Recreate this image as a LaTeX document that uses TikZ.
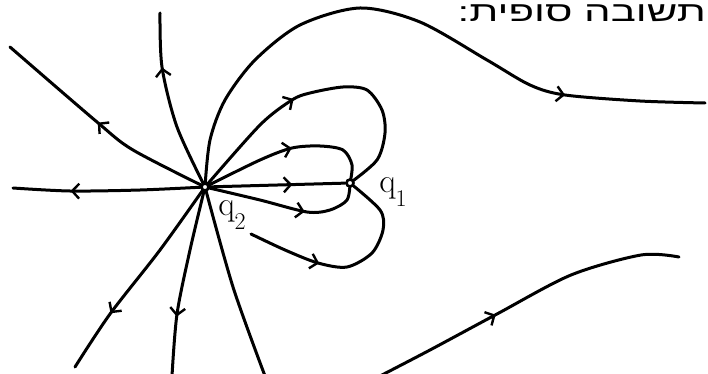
\documentclass[tikz,border=0pt]{standalone}
\usepackage{fontspec}
\usetikzlibrary{arrows.meta,decorations.markings,backgrounds}
\newfontfamily\hebfont[Script=Hebrew]{Liberation Sans}
\TeXXeTstate=1
\tikzset{
  flow/.style={line width=3pt, line cap=round, line join=round},
  arr/.style={postaction={decorate}, decoration={markings,
     mark=at position #1 with {\arrow[line width=2.4pt]{Straight Barb[length=7pt,width=15pt]}}}},
  dot/.style={circle, draw, line width=2.6pt, fill=white, inner sep=0pt, minimum size=7pt},
  lbl/.style={font=\fontsize{34}{38}\selectfont, inner sep=0pt}
}
\newcommand{\qlab}[1]{q\raisebox{-0.4em}{\fontsize{24}{26}\selectfont #1}}
\begin{document}
\begin{tikzpicture}[x=1pt,y=-1pt]
\useasboundingbox (0,0) rectangle (708,374);
\node[dot] (q2) at (205,187) {};
\node[dot] (q1) at (350,183) {};
\coordinate (s8) at (251,234);
\coordinate (s13) at (380,376);
\coordinate (e1) at (10,47);
\coordinate (e2) at (160,13);
\coordinate (e3) at (705,103);
\coordinate (e9) at (13,188);
\coordinate (e10) at (75,367);
\coordinate (e11) at (172,376);
\coordinate (e12) at (265,376);
\coordinate (e13) at (679,257);
\begin{scope}[on background layer]
\draw[flow,arr=0.52] plot[smooth] coordinates {(q2) (133,150) (97,122) (e1)};
\draw[flow,arr=0.70] plot[smooth] coordinates {(q2) (177,127) (162,67) (e2)};
\draw[flow,arr=0.776] plot[smooth] coordinates {(q2) (210,140) (225,100) (255,60) (300,25) (360,8) (420,22) (487,60) (530,85) (565,95) (640,101) (e3)};
\draw[flow,arr=0.40] plot[smooth] coordinates {(q2) (260,125) (292,100) (310,93) (343,87) (367,90) (382,110) (385,133) (377,160) (q1)};
\draw[flow,arr=0.52] plot[smooth] coordinates {(q2) (260,160) (292,148) (320,146) (343,150) (352,165) (q1)};
\draw[flow,arr=0.61] (q2) -- (q1);
\draw[flow,arr=0.62] plot[smooth] coordinates {(q2) (260,200) (307,212) (330,210) (347,200) (q1)};
\draw[flow,arr=0.34] plot[smooth] coordinates {(s8) (285,250) (318,263) (347,267) (372,253) (383,230) (380,210) (q1)};
\draw[flow,arr=0.70] plot[smooth] coordinates {(q2) (140,190) (70,191) (e9)};
\draw[flow,arr=0.71] plot[smooth] coordinates {(q2) (160,250) (110,314) (e10)};
\draw[flow,arr=0.69] plot[smooth] coordinates {(q2) (190,250) (177,314) (e11)};
\draw[flow] plot[smooth] coordinates {(q2) (233,287) (e12)};
\draw[flow,arr=0.40] plot[smooth] coordinates {(s13) (430,350) (497,314) (571,275) (641,255) (e13)};
\end{scope}
\node[lbl] (l1) at (393,192) {\qlab{1}};
\node[lbl] (l2) at (232,215) {\qlab{2}};
\node[font=\hebfont\fontsize{28}{32}\selectfont, anchor=base east, inner sep=0pt, xscale=1.5] (title) at (706,22) {\beginR תשובה סופית:\endR};
\end{tikzpicture}
\end{document}
